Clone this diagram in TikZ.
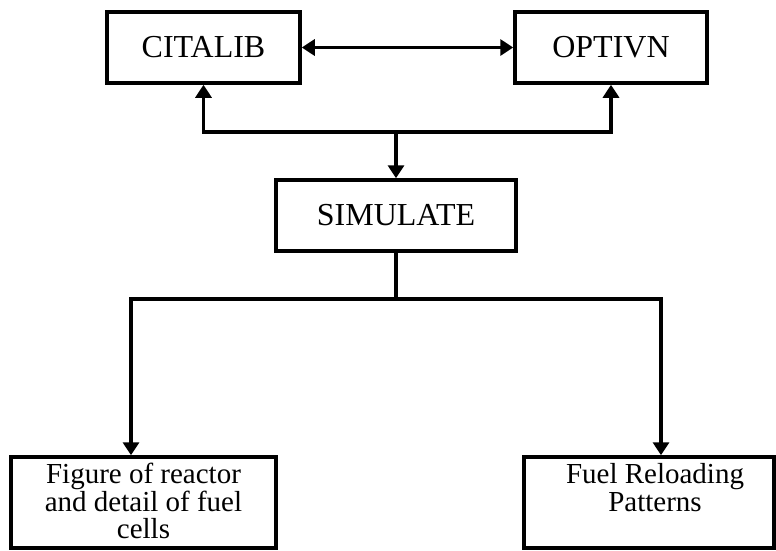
\documentclass[tikz,border=0pt]{standalone}
\usepackage{fontspec}
\setmainfont{Liberation Serif}
\usetikzlibrary{arrows.meta}
\begin{document}
\begin{tikzpicture}[x=1pt,y=-1pt,
  box/.style={draw,line width=3.5pt,inner sep=0pt,fill=white},
  lbl/.style={font=\fontsize{32}{36}\selectfont,inner sep=0pt},
  btext/.style={font=\fontsize{29}{27.5}\selectfont,align=center,inner sep=0pt},
  conn/.style={line width=3.5pt},
  arr/.style={line width=3.5pt,-{Triangle[length=13pt,width=16pt]}},
  darr/.style={line width=3.5pt,{Triangle[length=13pt,width=16pt]}-{Triangle[length=13pt,width=16pt]}}]
\useasboundingbox (0,0) rectangle (776,550);
\node[box,minimum width=193pt,minimum height=71pt] (cit) at (203.5,47.5) {};
\node[lbl] (citt) at (cit.center) {CITALIB};
\node[box,minimum width=192pt,minimum height=71pt] (opt) at (611,47.5) {};
\node[lbl] (optt) at (opt.center) {OPTIVN};
\node[box,minimum width=240pt,minimum height=71pt] (sim) at (396,215.5) {};
\node[lbl] (simt) at (sim.center) {SIMULATE};
\node[box,minimum width=265pt,minimum height=91pt] (fig) at (143.5,502.5) {};
\node[btext,anchor=north] (figt) at ([yshift=-8pt]fig.north) {Figure of reactor\\and detail of fuel\\cells};
\node[box,minimum width=250pt,minimum height=91pt] (rel) at (649,502.5) {};
\node[btext,anchor=north] (relt) at ([yshift=-8pt,xshift=6pt]rel.north) {Fuel Reloading\\Patterns};
\coordinate (t) at (396,132);
\coordinate (j) at (396,299);
\draw[darr] (cit.east) -- (opt.west);
\draw[arr] (t) -| (cit.south);
\draw[arr] (t) -| (opt.south);
\draw[arr] (t) -- (sim.north);
\draw[conn] (sim.south) -- (j);
\draw[arr] (j) -| ([xshift=-12.5pt]fig.north);
\draw[arr] (j) -| ([xshift=12pt]rel.north);
\end{tikzpicture}
\end{document}
